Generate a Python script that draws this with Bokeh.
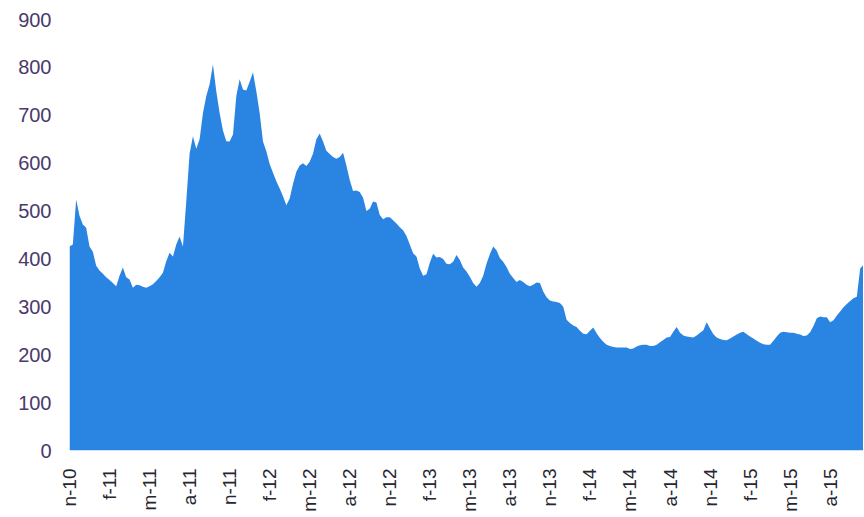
import math
import numpy as np
from bokeh.plotting import figure
from bokeh.models import Range1d, FixedTicker
from bokeh.embed import file_html
from bokeh.resources import INLINE

# Weekly-ish price readings (4 per month), starting Nov 2010
price = [
    426, 430, 524, 490, 472, 465, 426, 415, 386, 376,
    369, 362, 356, 350, 343, 365, 382, 362, 357, 340,
    346, 345, 342, 340, 343, 347, 354, 362, 371, 395,
    413, 405, 430, 447, 426, 520, 620, 656, 630, 650,
    705, 740, 765, 806, 750, 705, 668, 646, 645, 660,
    740, 775, 754, 752, 770, 790, 750, 705, 645, 625,
    598, 580, 562, 547, 531, 512, 526, 557, 582, 595,
    600, 594, 603, 620, 650, 662, 645, 626, 619, 613,
    609, 613, 622, 595, 565, 542, 543, 540, 528, 500,
    505, 520, 518, 492, 483, 487, 487, 481, 474, 466,
    460, 448, 430, 412, 405, 380, 365, 368, 392, 411,
    403, 404, 400, 390, 389, 394, 408, 398, 382, 374,
    363, 350, 342, 350, 365, 390, 410, 426, 418, 402,
    394, 383, 369, 360, 352, 356, 352, 346, 343, 346,
    351, 350, 332, 320, 313, 311, 310, 308, 300, 273,
    266, 261, 258, 250, 244, 243, 250, 257, 245, 235,
    227, 221, 218, 216, 215, 215, 215, 215, 212, 213,
    217, 220, 221, 221, 218, 218, 221, 226, 231, 236,
    237, 248, 258, 246, 240, 238, 237, 236, 240, 246,
    251, 268, 255, 243, 236, 233, 231, 230, 234, 238,
    242, 246, 248, 243, 238, 234, 229, 225, 222, 221,
    221, 229, 238, 246, 248, 247, 246, 246, 244, 242,
    239, 240, 247, 260, 276, 280, 278, 278, 268, 272,
    282, 290, 299, 306, 312, 318, 321, 380, 388, 378,
]
month = list(np.arange(len(price)) / 4.0)

tick_months = [0, 3, 6, 9, 12, 15, 18, 21, 24, 27, 30, 33, 36, 39, 42, 45, 48, 51, 54, 57]
tick_labels = ["n-10", "f-11", "m-11", "a-11", "n-11", "f-12", "m-12", "a-12", "n-12", "f-13",
               "m-13", "a-13", "n-13", "f-14", "m-14", "a-14", "n-14", "f-15", "m-15", "a-15"]
y_ticks = [0, 100, 200, 300, 400, 500, 600, 700, 800, 900]

p = figure(width=863, height=516, output_backend="svg", toolbar_location=None,
           x_range=Range1d(0, 59.5), y_range=Range1d(0, 900),
           min_border_left=69, min_border_right=0, min_border_top=19, min_border_bottom=66)
p.outline_line_color = None
p.background_fill_color = "white"
p.border_fill_color = "white"
p.xgrid.visible = False
p.ygrid.visible = False

p.varea(x=month, y1=[0] * len(price), y2=price, fill_color="#2a85e2", fill_alpha=1.0)

for ax in (p.xaxis[0], p.yaxis[0]):
    ax.axis_line_color = None
    ax.major_tick_line_color = None
    ax.minor_tick_line_color = None
    ax.major_label_text_font = "Liberation Sans"

p.yaxis.ticker = FixedTicker(ticks=y_ticks)
p.yaxis.major_label_text_font_size = "20px"
p.yaxis.major_label_text_color = "#483a6c"
p.yaxis.major_label_standoff = 12

p.xaxis.ticker = FixedTicker(ticks=tick_months)
p.xaxis.major_label_overrides = {m: lab for m, lab in zip(tick_months, tick_labels)}
p.xaxis.major_label_orientation = math.pi / 2
p.xaxis.major_label_text_font_size = "19px"
p.xaxis.major_label_text_color = "#262630"
p.xaxis.major_label_standoff = 12

open("out.html", "w").write(file_html(p, INLINE))
